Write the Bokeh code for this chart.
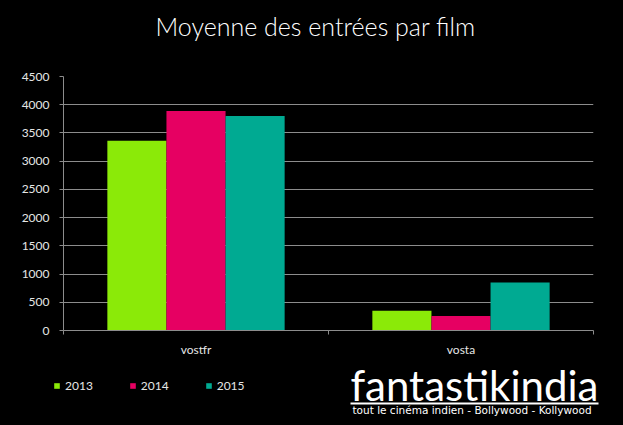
from bokeh.plotting import figure
from bokeh.layouts import column
from bokeh.models import (ColumnDataSource, Range1d, LinearAxis, FixedTicker, Legend, LegendItem,
                          Label, BoxAnnotation)
from bokeh.transform import dodge
from bokeh.embed import file_html
from bokeh.resources import INLINE

categories = ["vostfr", "vosta"]
years = ["2013", "2014", "2015"]
v2013 = [3360, 350]
v2014 = [3890, 255]
v2015 = [3800, 850]
y_ticks = [0, 500, 1000, 1500, 2000, 2500, 3000, 3500, 4000, 4500]
colors = ["#8BEA08", "#E60062", "#00AA92"]
title_text = "Moyenne des entrées par film"
logo_text = "fantastikindia"
logo_sub = "tout le cinéma indien - Bollywood - Kollywood"

W = 623


def strip(height):
    f = figure(width=W, height=height, x_range=Range1d(0, W), y_range=Range1d(0, height),
               output_backend="svg", toolbar_location=None,
               x_axis_location=None, y_axis_location=None,
               min_border_left=0, min_border_right=0, min_border_top=0, min_border_bottom=0)
    f.background_fill_color = "black"
    f.border_fill_color = "black"
    f.outline_line_color = None
    f.grid.grid_line_color = None
    f.frame_align = False
    return f


# top strip: title
t = strip(50)
t.add_layout(Label(x=155, y=25, x_units="screen", y_units="screen", text=title_text,
                   text_align="left", text_baseline="alphabetic", text_color="white",
                   text_font="Lato Light", text_font_size="25px"))

# main chart
n = len(categories)
centers = [i + 0.5 for i in range(n)]
src = ColumnDataSource(dict(xc=centers, y2013=v2013, y2014=v2014, y2015=v2015))

p = figure(width=W, height=310, x_range=Range1d(0, n),
           y_range=Range1d(0, 4500), output_backend="svg", toolbar_location=None,
           x_axis_location=None, y_axis_location=None,
           min_border_left=63, min_border_right=30, min_border_top=26, min_border_bottom=30)
p.background_fill_color = "black"
p.border_fill_color = "black"
p.outline_line_color = None
p.frame_align = False

yax = LinearAxis(ticker=FixedTicker(ticks=y_ticks))
yax.axis_line_color = "#8c8c8c"
yax.major_tick_line_color = "#8c8c8c"
yax.major_tick_out = 4
yax.major_tick_in = 0
yax.minor_tick_line_color = None
yax.major_label_standoff = 10
yax.major_label_text_color = "#e6e6e6"
yax.major_label_text_font = "Lato"
yax.major_label_text_font_size = "12px"
p.add_layout(yax, "left")

bax = LinearAxis(ticker=FixedTicker(ticks=list(range(n + 1))))
bax.axis_line_color = "#8c8c8c"
bax.major_tick_line_color = "#8c8c8c"
bax.major_tick_out = 4
bax.major_tick_in = 0
bax.minor_tick_line_color = None
bax.major_label_text_font_size = "0px"
bax.major_label_standoff = 0
p.add_layout(bax, "below")

cax = LinearAxis(ticker=FixedTicker(ticks=centers),
                 major_label_overrides={c: name for c, name in zip(centers, categories)})
cax.axis_line_color = None
cax.major_tick_line_color = None
cax.minor_tick_line_color = None
cax.major_label_standoff = 1
cax.major_label_text_color = "#e6e6e6"
cax.major_label_text_font = "Lato"
cax.major_label_text_font_size = "12px"
p.add_layout(cax, "below")

p.xgrid.grid_line_color = None
p.ygrid.grid_line_color = "#8c8c8c"
p.ygrid.ticker = FixedTicker(ticks=y_ticks)

w = 0.223
for i, (yr, col) in enumerate(zip(years, colors)):
    p.vbar(x=dodge("xc", (i - 1) * w), top="y" + yr, width=w,
           source=src, fill_color=col, line_color=None)

# bottom strip: legend + logo (legend proxies sit outside the visible range)
q = strip(65)
leg_src = ColumnDataSource(dict(x=[-50], top=[0]))
lrs = [q.vbar(x="x", top="top", width=1, source=leg_src, fill_color=col, line_color=None)
       for col in colors]
legend = Legend(items=[LegendItem(label=yr, renderers=[r]) for yr, r in zip(years, lrs)],
                orientation="horizontal", location=(53, 32),
                glyph_width=7, glyph_height=7, label_standoff=5, label_width=27, label_height=7,
                spacing=36, padding=0, margin=0,
                background_fill_alpha=0, border_line_color=None,
                label_text_color="#e6e6e6", label_text_font="Lato", label_text_font_size="12px")
q.add_layout(legend, "center")

q.add_layout(Label(x=350, y=41, x_units="screen", y_units="screen", text=logo_text,
                   text_align="left", text_baseline="alphabetic", text_color="white",
                   text_font="Lato", text_font_size="42px"))
q.add_layout(BoxAnnotation(left=350, right=598, bottom=21, top=23,
                           left_units="screen", right_units="screen",
                           bottom_units="screen", top_units="screen",
                           fill_color="white", fill_alpha=1, line_color=None))
q.add_layout(Label(x=352, y=16, x_units="screen", y_units="screen", text=logo_sub,
                   text_align="left", text_baseline="alphabetic", text_color="white",
                   text_font="DejaVu Sans", text_font_size="10.5px"))

layout = column(t, p, q, spacing=0)
layout.styles = {"background-color": "black"}
open("out.html", "w").write(file_html(layout, INLINE))
